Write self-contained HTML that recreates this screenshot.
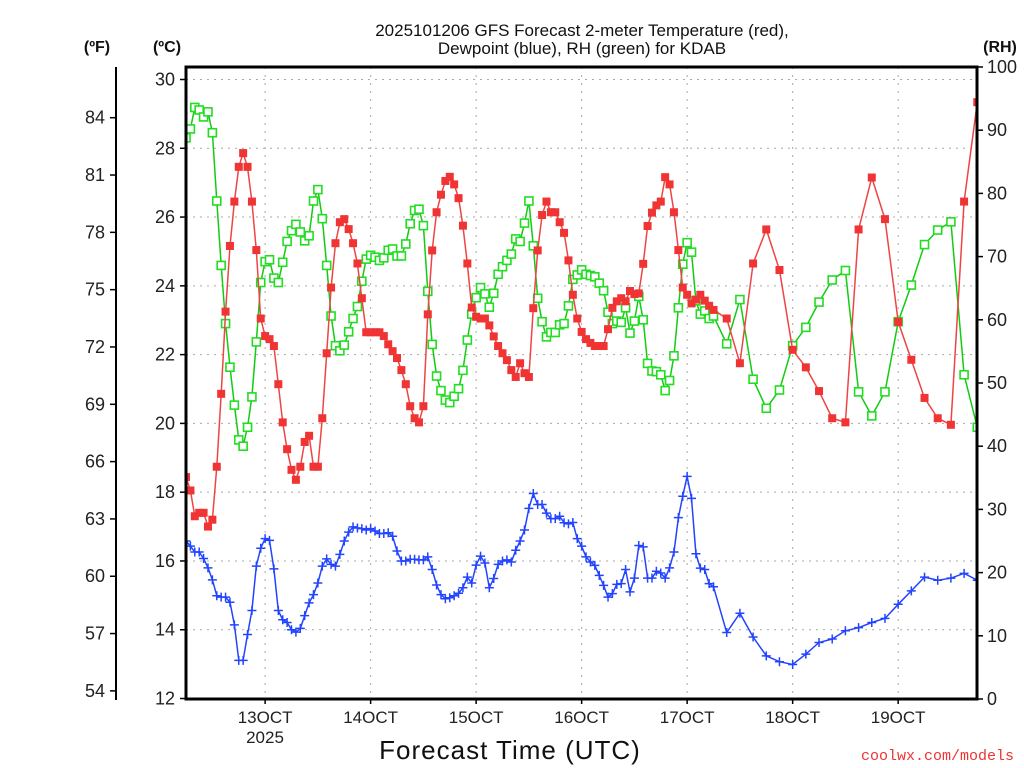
<!DOCTYPE html>
<html><head><meta charset="utf-8"><style>
html,body{margin:0;padding:0;background:#fff;}
svg{display:block;font-family:"Liberation Sans",sans-serif;}
</style></head><body>
<svg id="chart" width="1024" height="768" viewBox="0 0 1024 768" xmlns="http://www.w3.org/2000/svg">
<defs><clipPath id="plotclip"><rect x="186" y="67" width="791" height="632"/></clipPath></defs>
<g id="grid"></g>
<g id="series" clip-path="url(#plotclip)"></g>
<g id="axes"></g>
<text x="582" y="36" text-anchor="middle" font-size="17" fill="#111">2025101206 GFS Forecast 2-meter Temperature (red),</text>
<text x="582" y="54" text-anchor="middle" font-size="17" fill="#111">Dewpoint (blue), RH (green) for KDAB</text>
<text x="97" y="52" text-anchor="middle" font-size="16" font-weight="bold" fill="#111">(ºF)</text>
<text x="167" y="52" text-anchor="middle" font-size="16" font-weight="bold" fill="#111">(ºC)</text>
<text x="1000" y="52" text-anchor="middle" font-size="16" font-weight="bold" fill="#111">(RH)</text>
<text x="510" y="759" text-anchor="middle" font-size="26" fill="#111" letter-spacing="1">Forecast Time (UTC)</text>
<text x="265" y="743" text-anchor="middle" font-size="17" fill="#222">2025</text>
<text x="1014" y="760" text-anchor="end" font-size="15" fill="#e33" font-family="Liberation Mono, monospace">coolwx.com/models</text>
</svg>
<script>
var hours = [];
for (var i = 0; i <= 120; i++) hours.push(i);
for (var j = 123; j <= 180; j += 3) hours.push(j);
var dayLabels = ["13OCT","14OCT","15OCT","16OCT","17OCT","18OCT","19OCT"];
var celsiusTicks = [12,14,16,18,20,22,24,26,28,30];
var fahrenheitTicks = [54,57,60,63,66,69,72,75,78,81,84];
var rhTicks = [0,10,20,30,40,50,60,70,80,90,100];
var temperature = [18.44,18.05,17.3,17.4,17.4,17.0,17.2,18.74,20.86,23.25,
25.16,26.45,27.46,27.86,27.46,26.45,25.04,23.05,22.54,22.45,
22.25,21.14,20.03,19.25,18.65,18.36,18.74,19.46,19.64,18.74,
18.74,20.15,22.04,23.95,25.24,25.85,25.94,25.65,25.24,24.65,
23.64,22.65,22.65,22.65,22.65,22.54,22.3,22.1,21.9,21.55,
21.14,20.5,20.15,20.03,20.5,23.17,25.03,26.14,26.65,27.05,
27.17,26.95,26.55,25.75,24.65,23.37,23.1,23.05,23.05,22.85,
22.53,22.25,22.04,21.84,21.55,21.35,21.75,21.46,21.35,23.35,
25.03,26.06,26.45,26.14,26.14,25.85,25.54,24.74,23.74,23.05,
22.66,22.45,22.34,22.25,22.25,22.25,22.74,23.36,23.55,23.64,
23.55,23.85,23.76,23.78,24.64,25.74,26.13,26.34,26.45,27.16,
26.95,26.14,25.04,23.95,23.74,23.49,23.6,23.74,23.57,23.42,
23.3,
23.05,21.75,24.65,25.64,24.46,22.14,21.63,20.94,20.15,20.03,
25.64,27.15,25.94,22.95,21.85,20.74,20.15,19.96,26.45,29.34];
var dewpoint = [16.58,16.43,16.26,16.26,16.07,15.80,15.45,14.99,14.95,14.95,
14.80,14.14,13.11,13.11,13.86,14.56,15.85,16.37,16.65,16.6,
15.77,14.56,14.29,14.21,14.0,13.93,14.04,14.41,14.78,15.02,
15.36,15.85,16.06,15.9,15.85,16.19,16.58,16.84,16.99,16.96,
16.94,16.9,16.94,16.87,16.8,16.8,16.82,16.72,16.29,16.0,
16.0,16.05,16.05,16.03,16.03,16.12,15.75,15.30,15.02,14.9,
14.93,14.99,15.06,15.22,15.53,15.36,15.88,16.14,15.94,15.22,
15.49,15.9,16.0,16.03,15.97,16.31,16.58,16.9,17.53,17.96,
17.64,17.64,17.39,17.23,17.23,17.3,17.11,17.08,17.12,16.65,
16.43,16.12,15.97,15.87,15.58,15.29,14.95,15.05,15.32,15.34,
15.75,15.1,15.5,16.45,16.41,15.5,15.5,15.7,15.65,15.5,
15.8,16.26,17.26,17.88,18.46,17.82,16.21,15.79,15.75,15.34,
15.25,
13.92,14.48,13.79,13.24,13.07,12.99,13.29,13.63,13.73,13.97,
14.06,14.21,14.33,14.74,15.13,15.53,15.44,15.5,15.64,15.44];
var humidity = [88.8,90.2,93.6,93.2,92.1,92.9,89.6,78.8,68.6,59.4,
52.5,46.5,41.0,40.0,43.0,47.8,56.5,65.9,69.2,69.5,
66.6,65.9,69.1,72.4,74.1,75.1,73.9,72.5,73.3,78.8,
80.6,76.0,68.6,60.6,55.9,55.1,56.0,58.1,60.2,62.1,
66.1,69.6,70.2,69.9,69.4,69.8,71.0,71.2,70.1,70.1,
72.0,75.2,77.3,77.5,74.9,64.5,56.1,51.1,48.8,47.3,
46.9,47.9,49.1,52.0,56.8,60.9,63.5,65.1,64.1,62.0,
64.2,67.2,68.4,69.4,70.4,72.8,72.4,75.3,78.8,71.7,
63.4,59.7,57.3,58.0,58.0,59.2,59.4,62.2,66.4,67.1,
67.9,67.2,67.0,66.8,65.8,64.6,61.2,59.4,59.8,59.6,
61.9,57.9,59.8,63.7,60.0,53.1,51.9,51.8,51.3,48.8,
50.4,54.3,61.9,68.8,72.2,70.7,63.0,60.9,61.4,60.2,
60.6,
56.2,63.2,50.6,46.0,48.9,55.9,58.8,62.8,66.3,67.8,
48.6,44.8,48.6,59.7,65.5,71.9,74.2,75.5,51.3,43.0];

var NS = "http://www.w3.org/2000/svg";
var X0 = 186, PXH = 4.396, LEFT = 186, RIGHT = 977, TOP = 67, BOTTOM = 699;
function xScale(h){ return X0 + h * PXH; }
function yC(c){ return 79.5 + (30 - c) * 34.39; }
function yF(f){ return yC((f - 32) * 5 / 9); }
function yRH(r){ return BOTTOM - r * 6.32; }
function mk(tag, attrs, parent){
  var e = document.createElementNS(NS, tag);
  for (var k in attrs) e.setAttribute(k, attrs[k]);
  parent.appendChild(e); return e;
}
var grid = document.getElementById("grid");
var axes = document.getElementById("axes");
var series = document.getElementById("series");

// horizontal grid + celsius axis
celsiusTicks.forEach(function(c){
  var y = yC(c);
  if (c > 12 && c < 30.5) {
    var g = mk("line", {x1:LEFT, x2:RIGHT, y1:y, y2:y, stroke:"#aaa", "stroke-width":1, "stroke-dasharray":"2,5"}, grid);
    
    
  }
  var t = mk("line", {x1:LEFT-6, x2:LEFT, y1:y, y2:y, stroke:"#000", "stroke-width":1.5}, axes);
  
  
  var lb = mk("text", {x:175, y:y+6, "text-anchor":"end", "font-size":18, fill:"#222"}, axes);
  lb.textContent = c;
  
  
});
// vertical day grid + x labels
dayLabels.forEach(function(d, i){
  var x = xScale(18 + 24 * i);
  var g = mk("line", {x1:x, x2:x, y1:TOP, y2:BOTTOM, stroke:"#aaa", "stroke-width":1, "stroke-dasharray":"2,6"}, grid);
  
  
  var t = mk("line", {x1:x, x2:x, y1:BOTTOM, y2:BOTTOM+5, stroke:"#000", "stroke-width":1.5}, axes);
  
  
  var lb = mk("text", {x:x, y:723, "text-anchor":"middle", "font-size":17, fill:"#222"}, axes);
  lb.textContent = d;
  
  
});
// fahrenheit axis
var fl = mk("line", {x1:116, x2:116, y1:TOP, y2:BOTTOM+1, stroke:"#000", "stroke-width":2}, axes);


fahrenheitTicks.forEach(function(f){
  var y = yF(f);
  var t = mk("line", {x1:110, x2:116, y1:y, y2:y, stroke:"#000", "stroke-width":1.5}, axes);
  
  
  var lb = mk("text", {x:105, y:y+6, "text-anchor":"end", "font-size":18, fill:"#222"}, axes);
  lb.textContent = f;
  
  
});
// rh axis
rhTicks.forEach(function(r){
  var y = yRH(r);
  var t = mk("line", {x1:RIGHT, x2:RIGHT+6, y1:y, y2:y, stroke:"#000", "stroke-width":1.5}, axes);
  
  
  var lb = mk("text", {x:987, y:y+6, "text-anchor":"start", "font-size":18, fill:"#222"}, axes);
  lb.textContent = r;
  
  
});
// frame
var fr = mk("rect", {x:LEFT, y:TOP, width:RIGHT-LEFT, height:BOTTOM-TOP, fill:"none", stroke:"#000", "stroke-width":3}, axes);



function linePath(vals, yf){
  var d = "";
  for (var i = 0; i < vals.length; i++) d += (i ? "L" : "M") + xScale(hours[i]).toFixed(1) + "," + yf(vals[i]).toFixed(1);
  return d;
}
// RH series
var rhLine = mk("path", {d:linePath(humidity, yRH), fill:"none", stroke:"#11cc11", "stroke-width":1.5}, series);


humidity.forEach(function(v, i){
  var x = xScale(hours[i]), y = yRH(v);
  var m = mk("rect", {x:x-4, y:y-4, width:8, height:8, fill:"#fff", stroke:"#22dd22", "stroke-width":1.6}, series);
  
  
});
// temperature
var tLine = mk("path", {d:linePath(temperature, yC), fill:"none", stroke:"#ee4444", "stroke-width":1.5}, series);


temperature.forEach(function(v, i){
  var x = xScale(hours[i]), y = yC(v);
  var m = mk("rect", {x:x-4, y:y-4, width:8, height:8, fill:"#f03434"}, series);
  
  
});
// dewpoint
var dLine = mk("path", {d:linePath(dewpoint, yC), fill:"none", stroke:"#2244ff", "stroke-width":1.5}, series);


dewpoint.forEach(function(v, i){
  var x = xScale(hours[i]), y = yC(v);
  var m = mk("path", {d:"M"+(x-4.5)+","+y+"h9M"+x+","+(y-4.5)+"v9", stroke:"#2244ff", "stroke-width":1.5, fill:"none"}, series);
  
  
});
</script>
</body></html>
